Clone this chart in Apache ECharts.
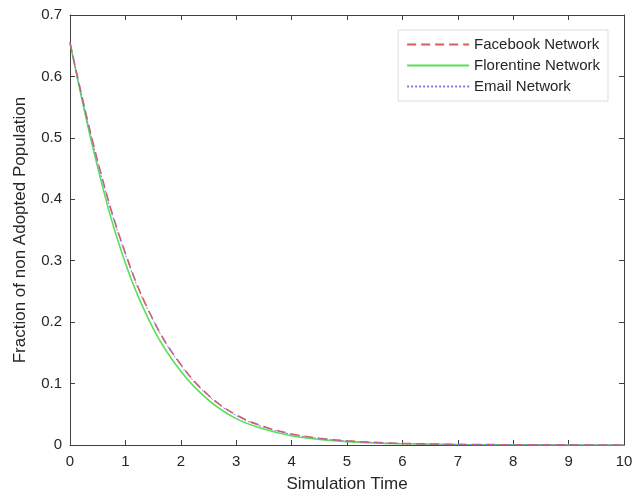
<!DOCTYPE html>
<html>
<head>
<meta charset="utf-8">
<script src="https://cdn.jsdelivr.net/npm/echarts@6/dist/echarts.min.js"></script>
<style>html,body{margin:0;padding:0;background:#fff}#c{width:644px;height:498px}</style>
</head>
<body>
<div id="c"></div>
<script>
var times = [0,0.5,1,1.5,2,2.5,3,3.5,4,4.5,5,5.5,6,6.5,7,8,9,10];
var facebook = [0.655,0.462,0.312,0.204,0.131,0.081,0.049,0.030,0.018,0.011,0.0068,0.0042,0.0026,0.0016,0.001,0.0004,0.00015,0.00005];
var florentine = [0.655,0.452,0.296,0.190,0.120,0.073,0.043,0.026,0.015,0.009,0.0055,0.0033,0.002,0.0012,0.0007,0.0003,0.0001,0.00004];
var email = [0.655,0.460,0.310,0.203,0.130,0.080,0.048,0.029,0.0175,0.0107,0.0066,0.0041,0.0025,0.0015,0.001,0.0004,0.00015,0.00005];
var xTicks = [0,1,2,3,4,5,6,7,8,9,10];
var yTicks = [0,0.1,0.2,0.3,0.4,0.5,0.6,0.7];

function pairs(vals){ return times.map(function(t,i){ return [t, vals[i]]; }); }
var font = 'Liberation Sans, Arial, sans-serif';
var axisCol = '#404040';
var chart = echarts.init(document.getElementById('c'));
function xAx(show, pos){
  return {type:'value', min:xTicks[0], max:xTicks[xTicks.length-1], interval:1, position:pos,
    axisLine:{show:true, onZero:false, lineStyle:{color:axisCol, width:1}},
    axisTick:{show:true, inside:true, length:5, lineStyle:{color:axisCol}},
    axisLabel:{show:show, color:'#262626', fontFamily:font, fontSize:15, margin:9},
    splitLine:{show:false},
    name: show ? 'Simulation Time' : '', nameLocation:'middle', nameGap:31,
    nameTextStyle:{color:'#262626', fontFamily:font, fontSize:17}};
}
function yAx(show, pos){
  return {type:'value', min:yTicks[0], max:yTicks[yTicks.length-1], interval:0.1, position:pos,
    axisLine:{show:true, onZero:false, lineStyle:{color:axisCol, width:1}},
    axisTick:{show:true, inside:true, length:5, lineStyle:{color:axisCol}},
    axisLabel:{show:show, color:'#262626', fontFamily:font, fontSize:15, margin:8,
      formatter:function(v){ return String(Math.round(v*10)/10); }},
    splitLine:{show:false},
    name: show ? 'Fraction of non Adopted Population' : '', nameLocation:'middle', nameGap:41,
    nameTextStyle:{color:'#262626', fontFamily:font, fontSize:17}};
}
chart.setOption({
  animation:false,
  backgroundColor:'#fff',
  grid:{left:70, right:20, top:15, bottom:50, containLabel:false},
  xAxis:[xAx(true,'bottom'), xAx(false,'top')],
  yAxis:[yAx(true,'left'), yAx(false,'right')],
  legend:{orient:'vertical', right:36, top:30, itemWidth:62, itemHeight:12, itemGap:6,
    backgroundColor:'#fff', borderColor:'#dddddd', borderWidth:1, padding:[7,8,7,8],
    itemStyle:{opacity:0},
    textStyle:{color:'#262626', fontFamily:font, fontSize:15},
    data:['Facebook Network','Florentine Network','Email Network']},
  series:[
    {name:'Florentine Network', type:'line', data:pairs(florentine), smooth:0.4, symbol:'none', color:'#55e055',
      lineStyle:{color:'#55e055', width:1.6, type:'solid'}, z:2},
    {name:'Facebook Network', type:'line', data:pairs(facebook), smooth:0.4, symbol:'none', color:'#dd5a5a',
      lineStyle:{color:'#dd5a5a', width:1.6, type:[9,5]}, z:3},
    {name:'Email Network', type:'line', data:pairs(email), smooth:0.4, symbol:'none', color:'#7c7cf0',
      lineStyle:{color:'#7c7cf0', width:1, type:[2,2]}, z:4}
  ]
});
</script>
</body>
</html>
